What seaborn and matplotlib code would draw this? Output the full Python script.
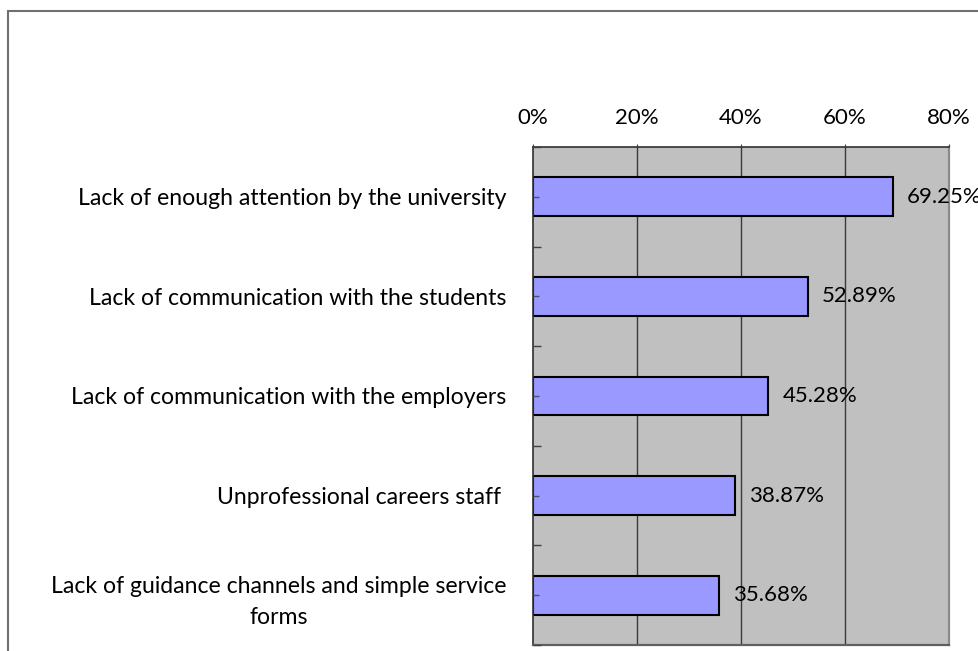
import matplotlib
matplotlib.use("Agg")
import matplotlib.pyplot as plt
from matplotlib.patches import Rectangle
from matplotlib.transforms import ScaledTranslation
import seaborn as sns
import pandas as pd

# Survey results: reasons given for weak career-guidance services
reasons = [
    "Lack of enough attention by the university",
    "Lack of communication with the students",
    "Lack of communication with the employers",
    "Unprofessional careers staff ",
    "Lack of guidance channels and simple service\nforms",
]
shares = [69.25, 52.89, 45.28, 38.87, 35.68]
x_ticks = [0, 20, 40, 60, 80]
x_tick_labels = ["0%", "20%", "40%", "60%", "80%"]

df = pd.DataFrame({"reason": reasons, "share": shares})

FONT = "Lato"
FS_CAT = 16.6
FS_NUM = 16.0

plt.rcParams["font.family"] = [FONT, "DejaVu Sans"]

fig = plt.figure(figsize=(9.79, 6.51), dpi=100)
ax = fig.add_axes([533 / 979, 1 - 645 / 651, (949 - 533) / 979, (645 - 147) / 651])
ax.set_facecolor("#c0c0c0")

# vertical gridlines sit behind the bars
for gx in x_ticks[1:-1]:
    ax.axvline(gx, color="#3a3a3a", linewidth=1, zorder=0.5)

sns.barplot(
    data=df, x="share", y="reason", orient="h", ax=ax,
    color="#9999ff", saturation=1, width=0.39,
    edgecolor="black", linewidth=1.5, zorder=1,
)

# value labels beside each bar
offset = ScaledTranslation(14 / 100, 0, fig.dpi_scale_trans)
for i, v in enumerate(shares):
    ax.text(v, i, f"{v:.2f}%", ha="left", va="center",
            fontsize=FS_NUM, color="black", clip_on=False,
            transform=ax.transData + offset, zorder=3)

ax.set_xlim(0, 80)
ax.set_ylim(len(reasons) - 0.5, -0.5)
ax.set_xlabel("")
ax.set_ylabel("")
ax.grid(False)
ax.set_axisbelow(False)

# value axis along the top
ax.xaxis.tick_top()
ax.set_xticks(x_ticks)
ax.set_xticklabels(x_tick_labels)
ax.tick_params(axis="x", direction="out", length=2, pad=11.5,
               labelsize=FS_NUM, colors="#404040", labelcolor="black")

# category axis: short marks at bar centres and at category boundaries
ax.set_yticks(range(len(reasons)))
ax.set_yticklabels(reasons, multialignment="center", linespacing=1.6)
ax.set_yticks([k - 0.5 for k in range(len(reasons) + 1)], minor=True)
ax.tick_params(axis="y", which="major", direction="in", length=4.3, width=1,
               pad=19, labelsize=FS_CAT, colors="#505060", labelcolor="black")
ax.tick_params(axis="y", which="minor", direction="in", length=5.8, width=1,
               colors="#404040")

for side, col, lw in [("top", "#303030", 1.2), ("left", "#303030", 1.2),
                      ("right", "#8a8a8a", 1.6), ("bottom", "#606060", 1.6)]:
    ax.spines[side].set_visible(True)
    ax.spines[side].set_color(col)
    ax.spines[side].set_linewidth(lw)

# chart frame
fig.add_artist(Rectangle((8.5 / 979, -0.1), 2, (651 - 10.5) / 651 + 0.1,
                         transform=fig.transFigure, fill=False,
                         edgecolor="#707070", linewidth=1.5))

fig.savefig("out.png", dpi=100, facecolor="white")
